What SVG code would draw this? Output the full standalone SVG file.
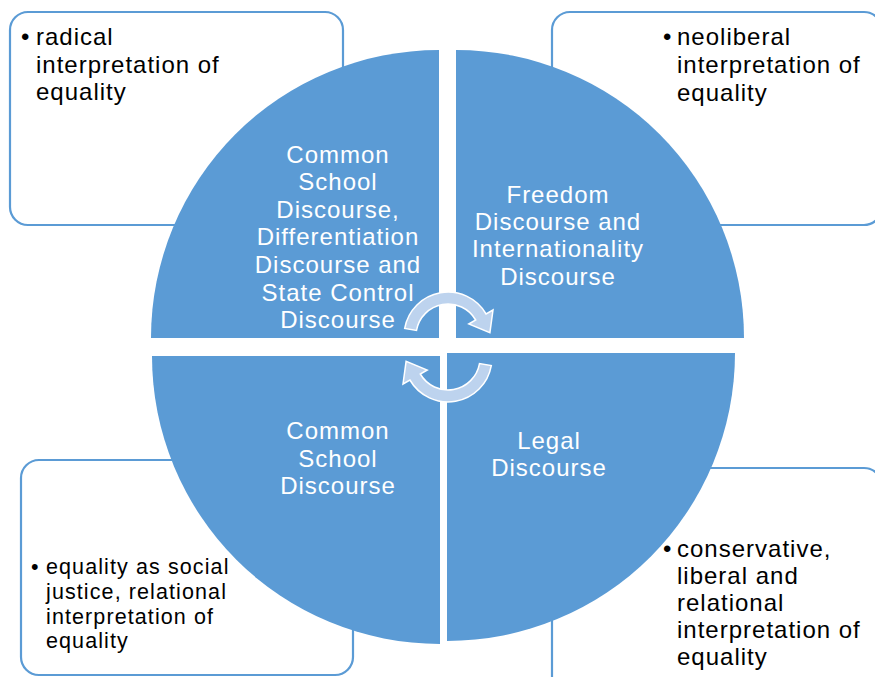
<svg xmlns="http://www.w3.org/2000/svg" width="875" height="677" viewBox="0 0 875 677">
<defs>
<style>
.box{fill:#ffffff;stroke:#5b9bd5;stroke-width:2.2}
.q{fill:#5b9bd5}
.qt{font-family:"Liberation Sans",Arial,sans-serif;font-size:24px;letter-spacing:1px;fill:#ffffff;text-anchor:middle}
.bt{font-family:"Liberation Sans",Arial,sans-serif;font-size:24px;letter-spacing:1px;fill:#000000}
.bs{font-size:21.5px;letter-spacing:1.1px}
.arr{fill:#bdd3ee;stroke:#ffffff;stroke-width:1.5}
</style>
<path id="cyc" d="M-43.3,-7.6 A44,44 0 0 1 38.1,-22 L45,-26 L41.9,-3.4 L20.8,-12 L27.7,-16 A32,32 0 0 0 -31.5,-5.6 Z"/>
</defs>
<rect width="875" height="677" fill="#ffffff"/>
<g id="box-tl">
<rect class="box" x="10" y="12" width="333" height="213" rx="18"/>
<text class="bt" x="21" y="45">•</text>
<text class="bt" x="36" y="45">radical</text>
<text class="bt" x="36" y="73">interpretation of</text>
<text class="bt" x="36" y="100">equality</text>
</g>
<g id="box-tr">
<rect class="box" x="552" y="12" width="330" height="213" rx="18"/>
<text class="bt" x="663" y="45">•</text>
<text class="bt" x="677" y="45">neoliberal</text>
<text class="bt" x="677" y="73">interpretation of</text>
<text class="bt" x="677" y="101">equality</text>
</g>
<g id="box-bl">
<rect class="box" x="21" y="460" width="332" height="215" rx="18"/>
<text class="bt bs" x="31" y="574">•</text>
<text class="bt bs" x="46" y="574">equality as social</text>
<text class="bt bs" x="46" y="599">justice, relational</text>
<text class="bt bs" x="46" y="624">interpretation of</text>
<text class="bt bs" x="46" y="648">equality</text>
</g>
<g id="box-br">
<rect class="box" x="552" y="468" width="330" height="230" rx="18"/>
<text class="bt" x="663" y="557">•</text>
<text class="bt" x="677" y="557">conservative,</text>
<text class="bt" x="677" y="584">liberal and</text>
<text class="bt" x="677" y="611">relational</text>
<text class="bt" x="677" y="638">interpretation of</text>
<text class="bt" x="677" y="665">equality</text>
</g>
<g id="q-tl">
<path class="q" d="M439,338 L151,338 A288,288 0 0 1 439,50 Z"/>
<text class="qt" x="338" y="163">Common</text>
<text class="qt" x="338" y="190">School</text>
<text class="qt" x="338" y="218">Discourse,</text>
<text class="qt" x="338" y="245">Differentiation</text>
<text class="qt" x="338" y="273">Discourse and</text>
<text class="qt" x="338" y="301">State Control</text>
<text class="qt" x="338" y="328">Discourse</text>
</g>
<g id="q-tr">
<path class="q" d="M456,338 L456,50 A288,288 0 0 1 744,338 Z"/>
<text class="qt" x="558" y="203">Freedom</text>
<text class="qt" x="558" y="230">Discourse and</text>
<text class="qt" x="558" y="257">Internationality</text>
<text class="qt" x="558" y="285">Discourse</text>
</g>
<g id="q-bl">
<path class="q" d="M440,356 L440,644 A288,288 0 0 1 152,356 Z"/>
<text class="qt" x="338" y="439">Common</text>
<text class="qt" x="338" y="467">School</text>
<text class="qt" x="338" y="494">Discourse</text>
</g>
<g id="q-br">
<path class="q" d="M447,353 L735,353 A288,288 0 0 1 447,641 Z"/>
<text class="qt" x="549" y="449">Legal</text>
<text class="qt" x="549" y="476">Discourse</text>
</g>
<g id="connectors">
<use href="#cyc" class="arr" transform="translate(448,336)"/>
<use href="#cyc" class="arr" transform="translate(448,358) rotate(180)"/>
</g>
</svg>
